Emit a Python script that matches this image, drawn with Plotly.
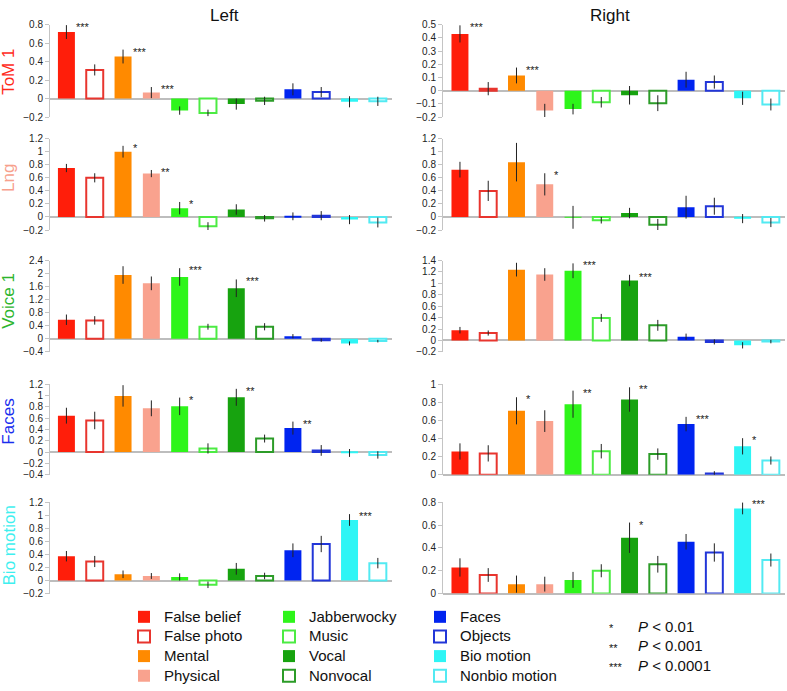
import plotly.graph_objects as go

W, H = 787, 691

conditions = ["False belief", "False photo", "Mental", "Physical",
              "Jabberwocky", "Music", "Vocal", "Nonvocal",
              "Faces", "Objects", "Bio motion", "Nonbio motion"]
hollow = [False, True, False, False, False, True, False, True, False, True, False, True]
colors = ["#FF1E0A", "#E8352E", "#FF8A00", "#F9A28E",
          "#2EF51A", "#4CEB43", "#17A30F", "#2C9C28",
          "#0024F0", "#2236D8", "#2EF5F5", "#52EAF2"]

regions = ["ToM 1", "Lng", "Voice 1", "Faces", "Bio motion"]
region_colors = ["#FF2A1A", "#F7A08C", "#2DB52D", "#1A2EEE", "#3FEFEF"]
hemispheres = ["Left", "Right"]

# ---- data: mean response, error and significance per region / hemisphere ----
tom1_left = [0.72, 0.31, 0.455, 0.065, -0.13, -0.155, -0.06, -0.025, 0.10, 0.07, -0.035, -0.03]
tom1_left_err = [0.075, 0.06, 0.075, 0.06, 0.045, 0.035, 0.06, 0.045, 0.065, 0.055, 0.06, 0.05]
tom1_left_sig = ["***", "", "***", "***", "", "", "", "", "", "", "", ""]

tom1_right = [0.43, 0.015, 0.115, -0.15, -0.14, -0.088, -0.035, -0.095, 0.083, 0.065, -0.058, -0.105]
tom1_right_err = [0.065, 0.05, 0.06, 0.05, 0.04, 0.04, 0.07, 0.06, 0.06, 0.05, 0.05, 0.045]
tom1_right_sig = ["***", "", "***", "", "", "", "", "", "", "", "", ""]

lng_left = [0.75, 0.6, 1.0, 0.665, 0.135, -0.14, 0.115, -0.02, 0.01, 0.02, -0.04, -0.085]
lng_left_err = [0.063, 0.07, 0.09, 0.055, 0.095, 0.06, 0.08, 0.05, 0.06, 0.07, 0.07, 0.075]
lng_left_sig = ["", "", "*", "**", "*", "", "", "", "", "", "", ""]

lng_right = [0.725, 0.4, 0.84, 0.5, -0.005, -0.05, 0.06, -0.12, 0.15, 0.165, -0.025, -0.085]
lng_right_err = [0.12, 0.155, 0.295, 0.17, 0.175, 0.05, 0.08, 0.09, 0.175, 0.13, 0.07, 0.07]
lng_right_sig = ["", "", "", "*", "", "", "", "", "", "", "", ""]

voice1_left = [0.585, 0.565, 1.955, 1.70, 1.895, 0.37, 1.55, 0.37, 0.08, -0.04, -0.14, -0.07]
voice1_left_err = [0.16, 0.13, 0.27, 0.21, 0.27, 0.09, 0.27, 0.11, 0.065, 0.05, 0.06, 0.04]
voice1_left_sig = ["", "", "", "", "***", "", "***", "", "", "", "", ""]

voice1_right = [0.18, 0.13, 1.24, 1.155, 1.22, 0.395, 1.05, 0.265, 0.065, -0.025, -0.085, -0.02]
voice1_right_err = [0.057, 0.045, 0.12, 0.11, 0.13, 0.07, 0.10, 0.095, 0.055, 0.045, 0.055, 0.03]
voice1_right_sig = ["", "", "", "", "***", "", "***", "", "", "", "", ""]

faces_left = [0.645, 0.56, 0.995, 0.775, 0.81, 0.065, 0.97, 0.24, 0.425, 0.03, -0.015, -0.05]
faces_left_err = [0.14, 0.155, 0.19, 0.14, 0.155, 0.09, 0.15, 0.07, 0.115, 0.095, 0.07, 0.065]
faces_left_sig = ["", "", "", "", "*", "", "**", "", "**", "", "", ""]

faces_right = [0.257, 0.236, 0.707, 0.593, 0.78, 0.26, 0.832, 0.228, 0.56, 0.014, 0.314, 0.157]
faces_right_err = [0.09, 0.09, 0.15, 0.12, 0.15, 0.08, 0.135, 0.063, 0.08, 0.025, 0.09, 0.045]
faces_right_sig = ["", "", "*", "", "**", "", "**", "", "***", "", "*", ""]

bio_left = [0.373, 0.292, 0.096, 0.07, 0.055, -0.065, 0.18, 0.07, 0.464, 0.56, 0.928, 0.267]
bio_left_err = [0.08, 0.085, 0.058, 0.045, 0.055, 0.05, 0.09, 0.05, 0.105, 0.125, 0.09, 0.08]
bio_left_sig = ["", "", "", "", "", "", "", "", "", "", "***", ""]

bio_right = [0.229, 0.163, 0.083, 0.083, 0.12, 0.2, 0.489, 0.257, 0.454, 0.36, 0.746, 0.294]
bio_right_err = [0.08, 0.06, 0.075, 0.065, 0.07, 0.057, 0.133, 0.073, 0.068, 0.08, 0.052, 0.057]
bio_right_sig = ["", "", "", "", "", "", "*", "", "", "", "***", ""]

p_key_stars = ["*", "**", "***"]
p_key_text = ["<i>P</i> < 0.01", "<i>P</i> < 0.001", "<i>P</i> < 0.0001"]

panels = [
    [(tom1_left, tom1_left_err, tom1_left_sig), (tom1_right, tom1_right_err, tom1_right_sig)],
    [(lng_left, lng_left_err, lng_left_sig), (lng_right, lng_right_err, lng_right_sig)],
    [(voice1_left, voice1_left_err, voice1_left_sig), (voice1_right, voice1_right_err, voice1_right_sig)],
    [(faces_left, faces_left_err, faces_left_sig), (faces_right, faces_right_err, faces_right_sig)],
    [(bio_left, bio_left_err, bio_left_sig), (bio_right, bio_right_err, bio_right_sig)],
]

# ---- layout geometry (pixels) ----
row_px = [(19, 113), (135, 228), (259, 352), (385, 477), (505, 598)]
col_px = [(50, 392), (443, 785)]
x_ranges = [[-0.58, 11.5], [-0.6, 11.5]]
y_ranges = [
    [[-0.2, 0.8], [-0.2, 0.5]],
    [[-0.2, 1.2], [-0.2, 1.2]],
    [[-0.4, 2.4], [-0.2, 1.4]],
    [[-0.4, 1.2], [0, 1.0]],
    [[-0.2, 1.2], [0, 0.8]],
]
y_dticks = [[0.2, 0.1], [0.2, 0.2], [0.4, 0.2], [0.2, 0.2], [0.2, 0.2]]

FONT = "Liberation Sans, Arial, Helvetica, sans-serif"

def px_x(x):
    return x / W

def px_y(y):
    return 1 - y / H

fig = go.Figure()
layout = dict(
    width=W, height=H,
    margin=dict(l=0, r=0, t=0, b=0),
    paper_bgcolor="white", plot_bgcolor="white",
    barmode="overlay",
    showlegend=True,
    font=dict(family=FONT, color="#111"),
)
annotations = []

legend_names = ["legend", "legend2", "legend3"]

for r in range(5):
    for c in range(2):
        k = r * 2 + c + 1
        xa = "x" if k == 1 else f"x{k}"
        ya = "y" if k == 1 else f"y{k}"
        vals, errs, sigs = panels[r][c]
        for i, name in enumerate(conditions):
            first = (r == 0 and c == 0)
            fig.add_trace(go.Bar(
                x=[name], y=[vals[i]],
                width=0.6,
                marker=dict(
                    color="white" if hollow[i] else colors[i],
                    line=dict(color=colors[i], width=2 if hollow[i] else 0),
                ),
                error_y=dict(type="data", array=[errs[i]], color="#222",
                             thickness=1, width=0),
                name=f'<span style="font-size:15px">{name}</span>',
                showlegend=first,
                legend=legend_names[i // 4],
                xaxis=xa, yaxis=ya,
                hoverinfo="y",
            ))
            if sigs[i]:
                annotations.append(dict(
                    x=i + 0.27, y=vals[i] + errs[i], xref=xa, yref=ya,
                    text=sigs[i], showarrow=False, xanchor="left", yanchor="middle",
                    yshift=-2, font=dict(size=11, color="#222", family=FONT),
                ))
        xkey = "xaxis" if k == 1 else f"xaxis{k}"
        ykey = "yaxis" if k == 1 else f"yaxis{k}"
        layout[xkey] = dict(
            domain=[px_x(col_px[c][0]), px_x(col_px[c][1])],
            anchor=ya, range=x_ranges[c], visible=False,
            type="category", categoryorder="array", categoryarray=conditions,
        )
        layout[ykey] = dict(
            domain=[px_y(row_px[r][1]), px_y(row_px[r][0])],
            anchor=xa, range=y_ranges[r][c], dtick=y_dticks[r][c], tick0=0,
            showline=True, linecolor="#c4c4c4", linewidth=1,
            ticks="outside", ticklen=4, tickcolor="#c4c4c4",
            showgrid=False, zeroline=True, zerolinecolor="#bdbdbd", zerolinewidth=1.5,
            tickfont=dict(size=10, color="#222", family=FONT),
            fixedrange=True,
        )

# column titles
for c, name in enumerate(hemispheres):
    annotations.append(dict(
        x=px_x([225, 610][c]), y=px_y(10), xref="paper", yref="paper",
        text=name, showarrow=False, xanchor="center", yanchor="middle",
        font=dict(size=17, color="#111", family=FONT),
    ))

# row labels
label_y = [67, 175, 300, 423, 549]
for r, name in enumerate(regions):
    annotations.append(dict(
        x=px_x(9), y=px_y(label_y[r]), xref="paper", yref="paper",
        text=name, showarrow=False, textangle=-90,
        xanchor="center", yanchor="middle",
        font=dict(size=17, color=region_colors[r], family=FONT),
    ))

# significance key
for j in range(3):
    yy = px_y(631 + 20 * j)
    annotations.append(dict(
        x=px_x(607), y=yy, xref="paper", yref="paper", text=p_key_stars[j],
        showarrow=False, xanchor="left", yanchor="middle", yshift=-2,
        font=dict(size=11, color="#111", family=FONT),
    ))
    annotations.append(dict(
        x=px_x(636), y=yy, xref="paper", yref="paper", text=p_key_text[j],
        showarrow=False, xanchor="left", yanchor="middle",
        font=dict(size=15, color="#111", family=FONT),
    ))

layout["annotations"] = annotations

legend_x = [124, 269, 420]
for j, ln in enumerate(legend_names):
    layout[ln] = dict(
        x=px_x(legend_x[j]), y=px_y(607), xanchor="left", yanchor="top",
        bgcolor="rgba(0,0,0,0)", borderwidth=0,
        font=dict(size=12.8, color="#111", family=FONT),
        tracegroupgap=0, itemclick=False, itemdoubleclick=False,
        traceorder="normal",
    )

fig.update_layout(**layout)
fig.write_html("out.html", config={"displayModeBar": False},
               post_script="document.body.style.margin='0';")
